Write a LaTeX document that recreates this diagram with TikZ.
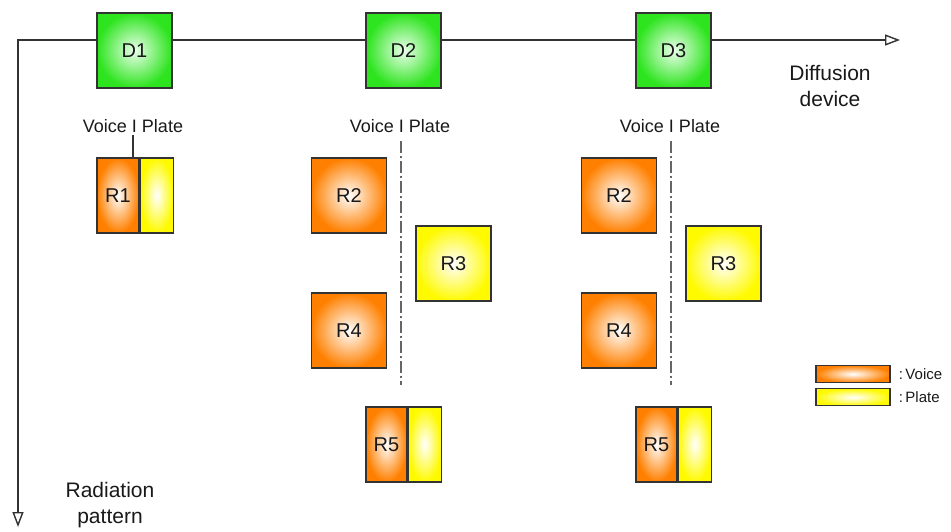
\documentclass[tikz,border=0pt]{standalone}
\usepackage{fontspec}
\setmainfont{Liberation Sans}
\usetikzlibrary{arrows.meta,positioning,shadings}
\definecolor{dgreen}{RGB}{45,228,30}
\definecolor{vorange}{RGB}{255,128,0}
\definecolor{pyellow}{RGB}{255,250,0}
\definecolor{linegray}{RGB}{50,50,50}

\begin{document}
\begin{tikzpicture}[x=1pt,y=-1pt,>={Triangle[open,length=15pt,width=11pt]},
  every node/.style={font=\fontsize{20}{24}\selectfont,text=black!90}]
\tikzstyle{box}=[draw=black!80,line width=1.2pt,minimum height=75pt,inner sep=0pt]
\tikzstyle{dev}=[box,minimum width=75pt,shading=radial,inner color=green!8!white,outer color=dgreen]
\tikzstyle{voice}=[box,minimum width=75pt,shading=radial,inner color=white,outer color=vorange]
\tikzstyle{plate}=[box,minimum width=75pt,shading=radial,inner color=white,outer color=pyellow]
\tikzstyle{head}=[font=\fontsize{18}{20}\selectfont,inner sep=2pt]
\tikzstyle{axis}=[draw=linegray,line width=1.4pt]
\tikzstyle{divider}=[draw=black!60,line width=1.3pt,dash pattern=on 12pt off 3pt on 2pt off 3pt]
\tikzstyle{caption}=[align=center,font=\fontsize{21}{26}\selectfont]
\useasboundingbox (0,0) rectangle (951,532);
% axes
\coordinate (origin) at (18,40);
\coordinate (xend) at (900,40);
\coordinate (yend) at (18,527);
\draw[axis,<->] (yend) -- (origin) -- (xend);
% diffusion devices
\node[dev] (d1) at (134.5,50.5) {D1};
\node[dev] (d2) at (403.5,50.5) {D2};
\node[dev] (d3) at (673.5,50.5) {D3};
\node[caption] (diff) at (830,86) {Diffusion\\device};
\node[caption] (rad) at (110,505) {Radiation\\pattern};
% column 1
\node[head] (lab1) at (133,126) {Voice I Plate};
\node[voice,minimum width=42pt] (r1v) at (118,195.5) {R1};
\node[plate,minimum width=33pt,right=0pt of r1v] (r1p) {};
\draw[line width=1.2pt,black!80] (lab1.south) -- (lab1.south |- r1v.north);
% column 2
\node[head] (lab2) at (400,126) {Voice I Plate};
\node[voice] (r2a) at (349,195.5) {R2};
\node[plate] (r3a) at (453.5,263.5) {R3};
\node[voice] (r4a) at (349,330.5) {R4};
\node[voice,minimum width=41pt] (r5av) at (386.5,444.5) {R5};
\node[plate,minimum width=33pt,right=0pt of r5av] (r5ap) {};
\coordinate (cut2) at (401,385);
\draw[divider] ([xshift=1pt,yshift=-6pt]lab2.south) -- (cut2);
% column 3
\node[head] (lab3) at (670,126) {Voice I Plate};
\node[voice] (r2b) at (619,195.5) {R2};
\node[plate] (r3b) at (723.5,263.5) {R3};
\node[voice] (r4b) at (619,330.5) {R4};
\node[voice,minimum width=41pt] (r5bv) at (656.5,444.5) {R5};
\node[plate,minimum width=33pt,right=0pt of r5bv] (r5bp) {};
\coordinate (cut3) at (671,385);
\draw[divider] ([xshift=1pt,yshift=-6pt]lab3.south) -- (cut3);
% legend
\node[voice,minimum width=74pt,minimum height=17pt] (legv) at (853,374) {};
\node[plate,minimum width=74pt,minimum height=17pt,below=5pt of legv] (legp) {};
\node[anchor=west,font=\fontsize{15}{17}\selectfont,inner sep=0pt] (txtv) at ([xshift=8pt]legv.east) {:\,Voice};
\node[anchor=west,font=\fontsize{15}{17}\selectfont,inner sep=0pt] (txtp) at ([xshift=8pt]legp.east) {:\,Plate};
\end{tikzpicture}
\end{document}
